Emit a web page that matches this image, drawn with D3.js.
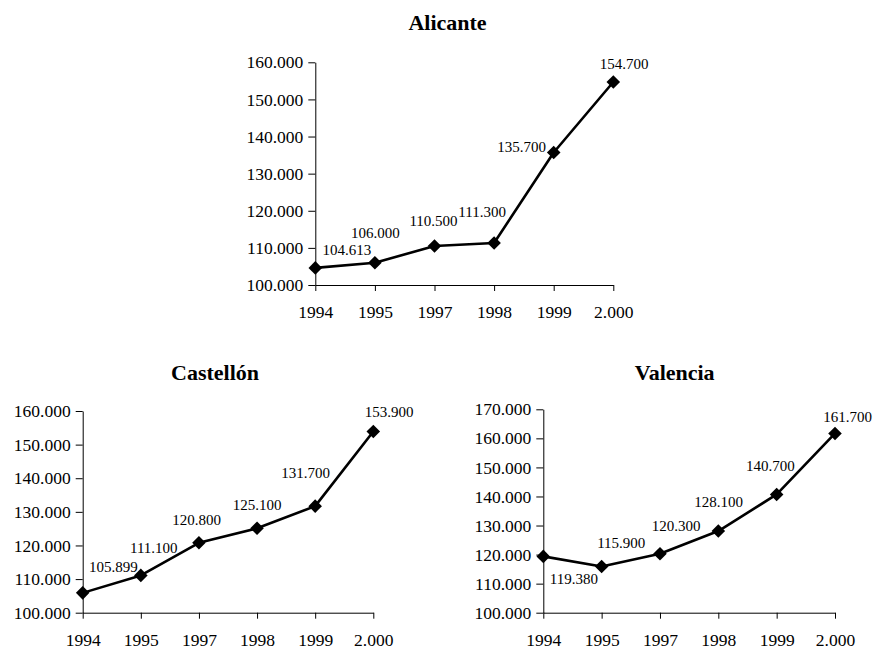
<!DOCTYPE html>
<html>
<head>
<meta charset="utf-8">
<script src="https://cdn.jsdelivr.net/npm/d3@7"></script>
<style>
  html, body { margin: 0; padding: 0; background: #fff; }
  svg { display: block; }
  svg text { font-family: "Liberation Serif", "Times New Roman", serif; fill: #000; }
</style>
</head>
<body>
<svg id="chart" width="875" height="650"></svg>
<script>
// Years on the horizontal axis (shared by the three provinces)
const years = ["1994", "1995", "1997", "1998", "1999", "2.000"];

// Values per province
const alicanteValues  = [104613, 106000, 110500, 111300, 135700, 154700];
const castellonValues = [105899, 111100, 120800, 125100, 131700, 153900];
const valenciaValues  = [119380, 115900, 120300, 128100, 140700, 161700];

// Y-axis tick values
const alicanteTicks  = [100000, 110000, 120000, 130000, 140000, 150000, 160000];
const castellonTicks = [100000, 110000, 120000, 130000, 140000, 150000, 160000];
const valenciaTicks  = [100000, 110000, 120000, 130000, 140000, 150000, 160000, 170000];

// Spanish-style number format: 104.613
const esLocale = d3.formatLocale({ decimal: ",", thousands: ".", grouping: [3], currency: ["", " €"] });
const fmt = esLocale.format(",");

const SERIF = "Liberation Serif, Times New Roman, serif";

// Panel layout: plot box, title anchor and per-point label offsets (dx centre, dy baseline)
const panels = [
  {
    title: "Alicante", values: alicanteValues, ticks: alicanteTicks,
    x0: 315.3, x1: 613.3, yTop: 62.3, yBottom: 285,
    titleX: 447.5, titleY: 30,
    labelOffsets: [[31.5, -13], [0.5, -24.4], [-1, -20], [-12, -25.7], [-32, 0], [10.7, -13]]
  },
  {
    title: "Castellón", values: castellonValues, ticks: castellonTicks,
    x0: 82.7, x1: 373.3, yTop: 411, yBottom: 612.7,
    titleX: 215, titleY: 380,
    labelOffsets: [[30.6, -21.2], [13, -22], [-2.2, -17.8], [0, -18.3], [-9.6, -27.9], [15.9, -14.8]]
  },
  {
    title: "Valencia", values: valenciaValues, ticks: valenciaTicks,
    x0: 543.3, x1: 835, yTop: 409.3, yBottom: 612.7,
    titleX: 674.7, titleY: 379.5,
    labelOffsets: [[30.5, 27.6], [19.6, -18.2], [16.2, -23], [0.4, -24.3], [-6.2, -23.7], [12.5, -11.7]]
  }
];

const svg = d3.select("#chart");
const marker = d3.symbol().type(d3.symbolSquare).size(92);

panels.forEach(p => {
  const g = svg.append("g");

  const x = d3.scalePoint().domain(years).range([p.x0, p.x1]).padding(0);
  const y = d3.scaleLinear()
    .domain([p.ticks[0], p.ticks[p.ticks.length - 1]])
    .range([p.yBottom, p.yTop]);

  // Title
  g.append("text")
    .attr("x", p.titleX).attr("y", p.titleY)
    .attr("text-anchor", "middle")
    .attr("font-family", SERIF)
    .attr("font-size", 22).attr("font-weight", "bold")
    .text(p.title);

  // Y axis
  const yAxis = g.append("g")
    .attr("transform", `translate(${p.x0},0)`)
    .call(d3.axisLeft(y).tickValues(p.ticks).tickFormat(fmt).tickSize(7).tickSizeOuter(0).tickPadding(5));

  // X axis
  const xAxis = g.append("g")
    .attr("transform", `translate(0,${p.yBottom})`)
    .call(d3.axisBottom(x).tickSize(6).tickSizeOuter(0));

  [yAxis, xAxis].forEach(ax => {
    ax.attr("font-family", SERIF).attr("font-size", 17.5);
    ax.select(".domain").attr("stroke", "#000").attr("stroke-width", 1);
    ax.selectAll(".tick line").attr("stroke", "#000").attr("stroke-width", 1);
    ax.selectAll(".tick text").attr("fill", "#000");
  });
  xAxis.selectAll(".tick text").attr("y", 33).attr("dy", 0);

  // Series line
  const pts = years.map((yr, i) => ({ yr, v: p.values[i], i }));
  g.append("path")
    .datum(pts)
    .attr("fill", "none").attr("stroke", "#000").attr("stroke-width", 2.6)
    .attr("stroke-linejoin", "round")
    .attr("d", d3.line().x(d => x(d.yr)).y(d => y(d.v)));

  // Diamond markers
  g.selectAll("path.mk")
    .data(pts).enter().append("path")
    .attr("class", "mk")
    .attr("d", marker)
    .attr("fill", "#000")
    .attr("transform", d => `translate(${x(d.yr)},${y(d.v)}) rotate(45)`);

  // Value labels
  g.selectAll("text.lbl")
    .data(pts).enter().append("text")
    .attr("class", "lbl")
    .attr("x", d => x(d.yr) + p.labelOffsets[d.i][0])
    .attr("y", d => y(d.v) + p.labelOffsets[d.i][1])
    .attr("text-anchor", "middle")
    .attr("font-family", SERIF)
    .attr("font-size", 15)
    .text(d => fmt(d.v));
});
</script>
</body>
</html>
